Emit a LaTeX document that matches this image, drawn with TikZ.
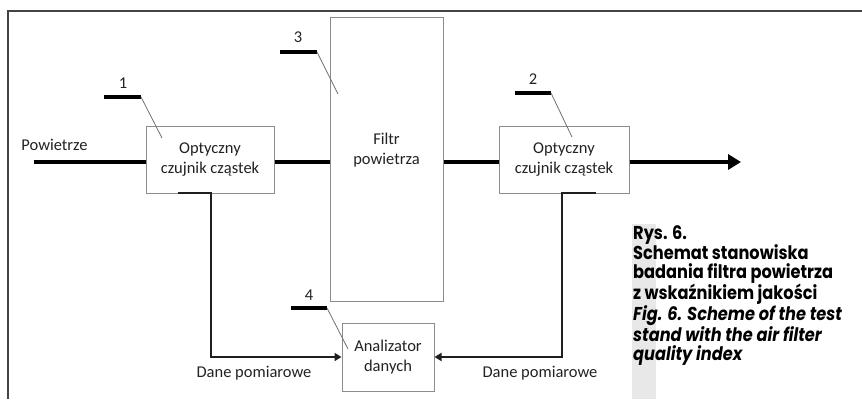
\documentclass[tikz,border=0pt]{standalone}
\usepackage{fontspec}
\setmainfont{Carlito}
\newfontfamily\capfont{Poppins}[FakeStretch=0.87]
\usetikzlibrary{arrows.meta,calc}
\definecolor{boxgray}{HTML}{8C8C8C}
\definecolor{leadgray}{HTML}{707070}
\definecolor{txt}{HTML}{222222}
\definecolor{stripgray}{HTML}{E8E8E8}
\definecolor{framec}{HTML}{444444}
\tikzset{
  box/.style={draw=boxgray,line width=1pt,fill=white,inner sep=0pt,
    font=\fontsize{16.5}{20}\selectfont,align=center,text=txt},
  txtn/.style={inner sep=0pt,font=\fontsize{16.5}{20}\selectfont,align=center,text=txt},
  flow/.style={line width=4pt,draw=black},
  data/.style={line width=2pt,draw=black!88,-{Triangle[length=7pt,width=8pt]}},
  bar/.style={line width=4pt,draw=black},
  lead/.style={draw=leadgray,line width=0.8pt},
  capn/.style={inner sep=0pt,align=left,font=\capfont\bfseries\fontsize{18.6}{18.4}\selectfont}
}
\begin{document}
\begin{tikzpicture}[x=1pt,y=-1pt]
\useasboundingbox (0,0) rectangle (862,399);
% frame and caption strip
\draw[framec,line width=1.2pt] (862,11) -- (8,11) -- (8,399);
\fill[stripgray] (632,224) rectangle (656,399);
% boxes
\node[box,minimum width=128,minimum height=67] (box1) at (210,159.5) {Optyczny\\czujnik cząstek};
\node[box,minimum width=113,minimum height=284] (filt) at (386.5,159) {};
\node[txtn] (filtt) at (386.5,150) {Filtr\\powietrza};
\node[box,minimum width=130,minimum height=67] (box2) at (564,159.5) {Optyczny\\czujnik cząstek};
\node[box,minimum width=92,minimum height=68] (anal) at (388,357) {Analizator\\danych};
% air flow
\coordinate (in) at (34,162);
\coordinate (out) at (741,162);
\node[txtn] (pow) at (54.5,145) {Powietrze};
\draw[flow] (in) -- (in -| box1.west);
\draw[flow] (in -| box1.east) -- (in -| filt.west);
\draw[flow] (in -| filt.east) -- (in -| box2.west);
\draw[flow,-{Triangle[length=13pt,width=15pt]}] (in -| box2.east) -- (out);
% data lines
\draw[data] ([xshift=-32pt,yshift=0.5pt]box1.south) -- ([xshift=1pt,yshift=0.5pt]box1.south) |- (anal.west);
\draw[data] ([xshift=32pt,yshift=0.5pt]box2.south) -- ([xshift=-2pt,yshift=0.5pt]box2.south) |- (anal.east);
\node[txtn] (d1) at (254,373) {Dane pomiarowe};
\node[txtn] (d2) at (540,373) {Dane pomiarowe};
% reference labels
\node[txtn] (n1) at (123,83) {1};
\coordinate (b1l) at (104,97); \coordinate (b1r) at (141,97); \coordinate (t1) at (162,138);
\draw[bar] (b1l) -- (b1r); \draw[lead] (b1r) -- (t1);
\node[txtn] (n2) at (533,79) {2};
\coordinate (b2l) at (515,93); \coordinate (b2r) at (551,93); \coordinate (t2) at (572,137);
\draw[bar] (b2l) -- (b2r); \draw[lead] (b2r) -- (t2);
\node[txtn] (n3) at (298,37) {3};
\coordinate (b3l) at (280,52); \coordinate (b3r) at (317,52); \coordinate (t3) at (338,94);
\draw[bar] (b3l) -- (b3r); \draw[lead] (b3r) -- (t3);
\node[txtn] (n4) at (309,295) {4};
\coordinate (b4l) at (291,308); \coordinate (b4r) at (327,308); \coordinate (t4) at (348,349);
\draw[bar] (b4l) -- (b4r); \draw[lead] (b4r) -- (t4);
% caption
\node[capn,anchor=north west] (cap) at (633,225) {Rys. 6.\\Schemat stanowiska\\badania filtra powietrza\\z wskaźnikiem jakości\\\itshape Fig. 6. Scheme of the test\\\itshape stand with the air filter\\\itshape quality index};
\end{tikzpicture}
\end{document}
